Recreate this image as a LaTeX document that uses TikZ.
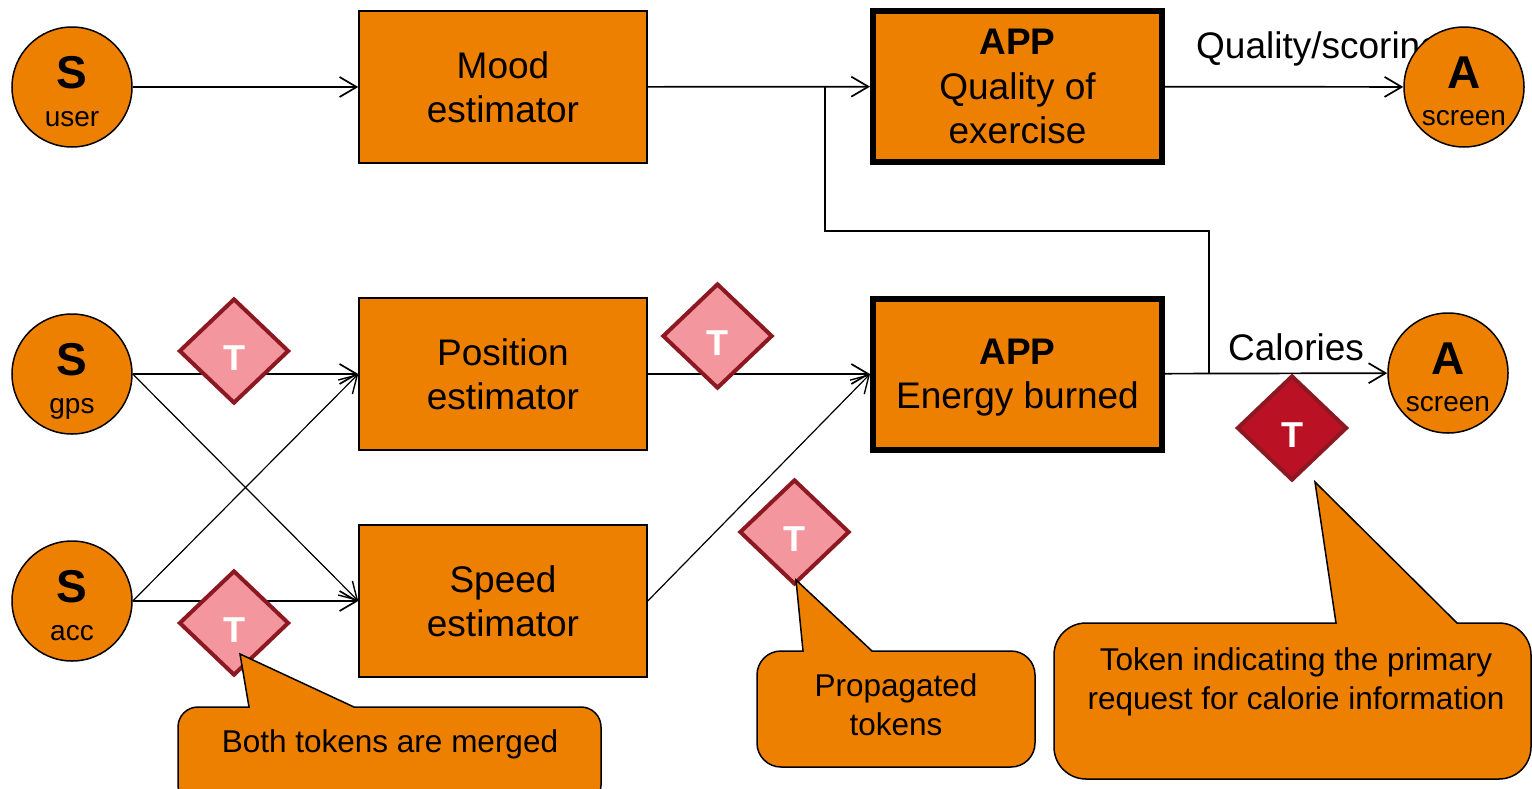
\documentclass[tikz,border=0pt]{standalone}
\usepackage{fontspec}
\setmainfont{Liberation Sans}
\usetikzlibrary{shapes.geometric,arrows.meta,calc}
\definecolor{boxorange}{RGB}{237,128,0}
\definecolor{tokpink}{RGB}{244,150,158}
\definecolor{tokred}{RGB}{186,18,36}
\definecolor{tokedge}{RGB}{140,24,34}
\begin{document}
\begin{tikzpicture}[x=1pt,y=-1pt,
  blk/.style={draw=black, line width=1.5pt, fill=boxorange, minimum width=288pt,
    minimum height=152pt, inner sep=0pt, align=center,
    font=\fontsize{37}{44.5}\selectfont, text depth=0pt},
  appblk/.style={blk, line width=6pt, minimum width=289pt, minimum height=151pt},
  endpt/.style={circle, draw=black, line width=1.5pt, fill=boxorange,
    minimum size=120pt, inner sep=0pt},
  bigL/.style={font=\fontsize{46}{46}\selectfont\bfseries, anchor=base, inner sep=0pt},
  subL/.style={font=\fontsize{28}{28}\selectfont, anchor=base, inner sep=0pt},
  tok/.style={diamond, draw=tokedge, line width=4pt, fill=tokpink,
    minimum width=110pt, minimum height=105pt, inner sep=0pt},
  tokT/.style={text=white, font=\fontsize{36}{36}\selectfont\bfseries, inner sep=0pt},
  flow/.style={line width=1.7pt, -{Straight Barb[length=17pt,width=20pt,line width=1.7pt]}},
  xflow/.style={line width=1.2pt, -{Straight Barb[length=17pt,width=20pt,line width=1.4pt]}},
  wire/.style={line width=1.4pt},
  note/.style={draw=black, line width=1.5pt, fill=boxorange},
  notetext/.style={font=\fontsize{31.5}{38.5}\selectfont, align=center, inner sep=0pt},
  lbl/.style={font=\fontsize{37}{44}\selectfont, anchor=base west, inner sep=0pt}
]
\useasboundingbox (0,0) rectangle (1532,788);

% processing blocks
\node[blk] (mood) at (503,87) {Mood\\estimator};
\node[blk] (pos) at (503,374) {Position\\estimator};
\node[blk] (spd) at (503,601) {Speed\\estimator};
\node[appblk] (appq) at (1017.5,86.5) {\textbf{APP}\\Quality of\\exercise};
\node[appblk] (appe) at (1017.5,374) {\textbf{APP}\\Energy burned};

% output labels (the screen circle sits on top of the first one)
\node[lbl] (qlbl) at (1196,58) {Quality/scoring};
\node[lbl] (clbl) at (1228,360) {Calories};

% sources and actuators
\node[endpt] (user) at (72,87) {};
\node[bigL] (userS) at ([yshift=-1pt]user.center) {S};
\node[subL] (userN) at ([yshift=-39pt]user.center) {user};
\node[endpt] (gps) at (72,374) {};
\node[bigL] (gpsS) at ([yshift=-1pt]gps.center) {S};
\node[subL] (gpsN) at ([yshift=-39pt]gps.center) {gps};
\node[endpt] (acc) at (72,601) {};
\node[bigL] (accS) at ([yshift=-1pt]acc.center) {S};
\node[subL] (accN) at ([yshift=-39pt]acc.center) {acc};
\node[endpt] (scr1) at (1464,87) {};
\node[bigL] (scr1A) at ([yshift=-1pt]scr1.center) {A};
\node[subL] (scr1N) at ([yshift=-38pt]scr1.center) {screen};
\node[endpt] (scr2) at (1448,373) {};
\node[bigL] (scr2A) at ([yshift=-1pt]scr2.center) {A};
\node[subL] (scr2N) at ([yshift=-38pt]scr2.center) {screen};

% junctions of the mood feedback wire
\coordinate (j1) at (825,87);
\coordinate (fb) at (1209,231);
\coordinate (j2) at (1209,374);

% data flow
\draw[flow] (user) -- (mood);
\draw[flow] (mood) -- (appq);
\draw[flow] (appq) -- (scr1);
\draw[wire] (j1) |- (fb) -- (j2);
\draw[flow] (gps) -- (pos);
\draw[xflow] (gps.east) -- (spd.west);
\draw[xflow] (acc.east) -- (pos.west);
\draw[flow] (acc) -- (spd);
\draw[flow] (pos) -- (appe);
\draw[xflow] (spd.east) -- (appe.west);
\draw[flow] (appe) -- (scr2);

% tokens
\node[tok] (tg) at (234,351) {};
\node[tokT] (tgT) at ([yshift=-7pt]tg.center) {T};
\node[tok] (ta) at (234,623) {};
\node[tokT] (taT) at ([yshift=-7pt]ta.center) {T};
\node[tok] (tp) at (717.5,336) {};
\node[tokT] (tpT) at ([yshift=-7pt]tp.center) {T};
\node[tok] (tq) at (794.5,532) {};
\node[tokT] (tqT) at ([yshift=-7pt]tq.center) {T};
\node[tok, fill=tokred] (tr) at (1292,428) {};
\node[tokT] (trT) at ([yshift=-7pt]tr.center) {T};

% callouts
\draw[note] (178,727) arc[start angle=180,end angle=270,radius=20]
  -- (249,707) -- (240,654) -- (354,707)
  -- (581,707) arc[start angle=270,end angle=360,radius=20]
  -- (601,785) arc[start angle=0,end angle=90,radius=20]
  -- (198,805) arc[start angle=90,end angle=180,radius=20] -- cycle;
\node[notetext, anchor=base] (n1) at (390,752) {Both tokens are merged};

\draw[note] (757,675) arc[start angle=180,end angle=270,radius=24]
  -- (803,651) -- (796,580) -- (872,651)
  -- (1011,651) arc[start angle=270,end angle=360,radius=24]
  -- (1035,743) arc[start angle=0,end angle=90,radius=24]
  -- (781,767) arc[start angle=90,end angle=180,radius=24] -- cycle;
\node[notetext] (n2) at (896,704.5) {Propagated\\tokens};

\draw[note] (1054,655) arc[start angle=180,end angle=270,radius=32]
  -- (1336,623) -- (1315,482) -- (1457,623)
  -- (1499,623) arc[start angle=270,end angle=360,radius=32]
  -- (1531,747) arc[start angle=0,end angle=90,radius=32]
  -- (1086,779) arc[start angle=90,end angle=180,radius=32] -- cycle;
\node[notetext] (n3) at (1296,682) {Token indicating the primary\\request for calorie information};
\end{tikzpicture}
\end{document}
